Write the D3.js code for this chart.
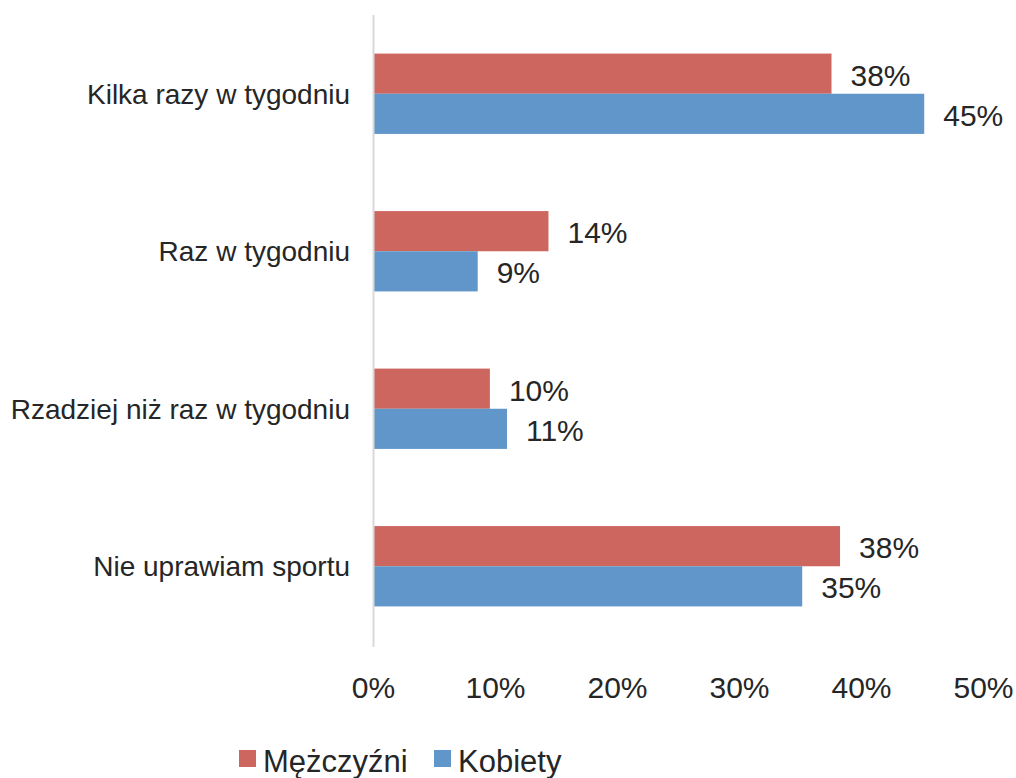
<!DOCTYPE html>
<html>
<head>
<meta charset="utf-8">
<script src="https://cdn.jsdelivr.net/npm/d3@7"></script>
<style>
  body { margin: 0; background: #fff; }
  svg text { font-family: "Liberation Sans", Arial, sans-serif; fill: #262626; }
</style>
</head>
<body>
<div class="container"></div>
<script>
const categories = ["Kilka razy w tygodniu", "Raz w tygodniu", "Rzadziej niż raz w tygodniu", "Nie uprawiam sportu"];
const seriesNames = ["Mężczyźni", "Kobiety"];
const men = [0.375, 0.143, 0.095, 0.382];
const women = [0.451, 0.085, 0.109, 0.351];
const menLabels = ["38%", "14%", "10%", "38%"];
const womenLabels = ["45%", "9%", "11%", "35%"];
const xTicks = [0, 0.1, 0.2, 0.3, 0.4, 0.5];
const colors = ["#cd665f", "#6096c9"];

const w = 1016;
const h = 778;

const svg = d3.select(".container")
  .append("svg")
  .attr("width", w)
  .attr("height", h);

const xScale = d3.scaleLinear()
  .domain([0, 0.5])
  .range([374, 984]);

const yScale = d3.scaleBand()
  .domain(categories)
  .range([15, 645])
  .paddingInner(0.49)
  .paddingOuter(0.245);

const ySub = d3.scaleBand()
  .domain(seriesNames)
  .range([0, yScale.bandwidth()]);

// rows built from the arrays above
const rows = categories.map((c, i) => ({
  cat: c,
  vals: [
    { s: seriesNames[0], v: men[i], label: menLabels[i] },
    { s: seriesNames[1], v: women[i], label: womenLabels[i] }
  ]
}));

const groups = svg.selectAll("g.cat")
  .data(rows)
  .enter()
  .append("g")
  .attr("class", "cat")
  .attr("transform", d => "translate(0," + yScale(d.cat) + ")");

groups.selectAll("rect")
  .data(d => d.vals)
  .enter()
  .append("rect")
  .attr("x", xScale(0))
  .attr("y", d => ySub(d.s))
  .attr("width", d => xScale(d.v) - xScale(0))
  .attr("height", ySub.bandwidth())
  .attr("fill", (d, i) => colors[i]);

groups.selectAll("text.val")
  .data(d => d.vals)
  .enter()
  .append("text")
  .attr("class", "val")
  .attr("x", d => xScale(d.v) + 19)
  .attr("y", d => ySub(d.s) + ySub.bandwidth() / 2 + 1.5)
  .attr("dy", "0.35em")
  .style("font-size", "30px")
  .text(d => d.label);

// vertical axis line + category labels
const yAxis = d3.axisLeft(yScale).tickSize(0).tickPadding(24);
const gy = svg.append("g")
  .attr("transform", "translate(" + xScale(0) + ",0)")
  .call(yAxis);
gy.select(".domain").remove();
gy.selectAll("text")
  .style("font-size", "28px")
  .attr("font-family", null)
  .attr("dy", "0.36em");

svg.append("line")
  .attr("x1", xScale(0) - 0.5)
  .attr("x2", xScale(0) - 0.5)
  .attr("y1", yScale.range()[0])
  .attr("y2", yScale.range()[1] + 2)
  .attr("stroke", "#d9d9d9")
  .attr("stroke-width", 2);

// x axis labels
const xAxis = d3.axisBottom(xScale)
  .tickValues(xTicks)
  .tickSize(0)
  .tickPadding(32)
  .tickFormat(d3.format(".0%"));
const gx = svg.append("g")
  .attr("transform", "translate(-1,645)")
  .call(xAxis);
gx.select(".domain").remove();
gx.selectAll("text")
  .style("font-size", "30px")
  .attr("font-family", null);

// legend
const legendX = [239, 434];
const legend = svg.selectAll("g.legend")
  .data(seriesNames)
  .enter()
  .append("g")
  .attr("class", "legend")
  .attr("transform", (d, i) => "translate(" + legendX[i] + ",750)");

legend.append("rect")
  .attr("width", 17)
  .attr("height", 17)
  .attr("fill", (d, i) => colors[i]);

legend.append("text")
  .attr("x", 24)
  .attr("y", 22)
  .style("font-size", "31px")
  .text(d => d);
</script>
</body>
</html>
